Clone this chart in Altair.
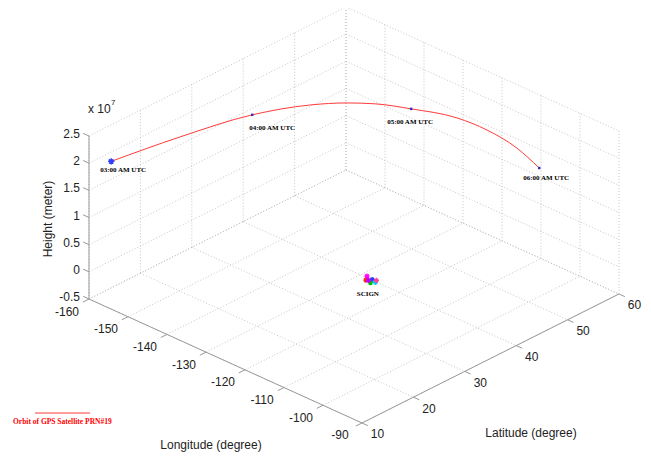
import altair as alt
import pandas as pd

# ---------------- data ----------------
lon_ticks = [-160, -150, -140, -130, -120, -110, -100, -90]
lat_ticks = [10, 20, 30, 40, 50, 60]
z_ticks = [-0.5, 0.0, 0.5, 1.0, 1.5, 2.0, 2.5]          # x 1e7 m
z_tick_labels = ["-0.5", "0", "0.5", "1", "1.5", "2", "2.5"]

# orbit of GPS satellite PRN#19 (longitude, latitude, height in m)
orbit_lon = [-157.2, -154.5, -150.7, -145.6, -141.1, -137.1, -130.9, -122.3, -115.0, -106.2, -97.8]
orbit_lat = [12.2, 23.5, 34.7, 42.0, 45.9, 48.3, 50.6, 53.0, 53.3, 52.4, 50.4]
orbit_h = [2.02e7, 2.02e7, 2.02e7, 2.02e7, 2.02e7, 2.02e7, 2.02e7, 2.02e7, 2.02e7, 2.02e7, 2.02e7]

hour_labels = ["03:00 AM UTC", "04:00 AM UTC", "05:00 AM UTC", "06:00 AM UTC"]
hour_lon = [-157.2, -150.7, -130.9, -97.8]
hour_lat = [12.2, 34.7, 50.6, 50.4]
hour_h = [2.02e7, 2.02e7, 2.02e7, 2.02e7]

# SCIGN stations
station_lon = [-121.4, -120.5, -119.8, -119.2, -118.6, -120.1, -119.0]
station_lat = [34.8, 33.9, 34.6, 33.8, 34.3, 34.1, 34.8]
station_h = [0.0, 0.0, 0.0, 0.0, 0.0, 0.0, 0.0]
station_colors = ["#ff00ff", "#ff2020", "#2040ff", "#00c000", "#00d0ff", "#c000ff", "#ff40a0"]

# ---------------- projection (view of the 3-D box) ----------------
LON0, LAT0, Z0 = -160.0, 10.0, -0.5
ORIGIN = (89.0 - 8, 299.0 - 8)      # screen position of the (lon0, lat0, z0) corner
VLON = (3.9, 1.771)                 # px per degree longitude
VLAT = (5.14, -2.58)                # px per degree latitude
VZ = (0.0, -54.33)                  # px per 1e7 m
W, H = 635, 444


def proj(lon, lat, z):  # z in units of 1e7 m
    a, b, c = lon - LON0, lat - LAT0, z - Z0
    return (ORIGIN[0] + a * VLON[0] + b * VLAT[0] + c * VZ[0],
            ORIGIN[1] + a * VLON[1] + b * VLAT[1] + c * VZ[1])


zmin, zmax = z_ticks[0], z_ticks[-1]
lonmin, lonmax = lon_ticks[0], lon_ticks[-1]
latmin, latmax = lat_ticks[0], lat_ticks[-1]


def seg(p, q):
    x, y = proj(*p)
    x2, y2 = proj(*q)
    return {"x": x, "y": y, "x2": x2, "y2": y2}


grid = []
for lo in lon_ticks:
    grid.append(seg((lo, latmin, zmin), (lo, latmax, zmin)))      # floor
    grid.append(seg((lo, latmax, zmin), (lo, latmax, zmax)))      # back wall
for la in lat_ticks:
    grid.append(seg((lonmin, la, zmin), (lonmax, la, zmin)))      # floor
    grid.append(seg((lonmin, la, zmin), (lonmin, la, zmax)))      # left wall
for z in z_ticks:
    grid.append(seg((lonmin, latmin, z), (lonmin, latmax, z)))    # left wall
    grid.append(seg((lonmin, latmax, z), (lonmax, latmax, z)))    # back wall
grid_df = pd.DataFrame(grid)

axes_df = pd.DataFrame([
    seg((lonmin, latmin, zmin), (lonmin, latmin, zmax)),
    seg((lonmin, latmin, zmin), (lonmax, latmin, zmin)),
    seg((lonmax, latmin, zmin), (lonmax, latmax, zmin)),
])

ticks = []
for z in z_ticks:
    ticks.append(seg((lonmin, latmin, z), (lonmin - 1.5, latmin, z)))
for lo in lon_ticks:
    ticks.append(seg((lo, latmin, zmin), (lo, latmin - 1.2, zmin)))
for la in lat_ticks:
    ticks.append(seg((lonmax, la, zmin), (lonmax + 1.5, la, zmin)))
ticks_df = pd.DataFrame(ticks)

zl = []
for z, t in zip(z_ticks, z_tick_labels):
    x, y = proj(lonmin, latmin, z)
    zl.append({"x": x - 9, "y": y - 2, "t": t})
zlab_df = pd.DataFrame(zl)

ll = []
for lo in lon_ticks:
    x, y = proj(lo, latmin, zmin)
    ll.append({"x": x - 22, "y": y + 12.5, "t": str(lo)})
for la in lat_ticks:
    x, y = proj(lonmax, la, zmin)
    ll.append({"x": x + 15.5, "y": y + 11.5, "t": str(la)})
cl_df = pd.DataFrame(ll)

orb = []
for i, (lo, la, h) in enumerate(zip(orbit_lon, orbit_lat, orbit_h)):
    x, y = proj(lo, la, h / 1e7)
    orb.append({"x": x, "y": y, "o": i})
orbit_df = pd.DataFrame(orb)

label_dx = [-11, -3, -24, -16]
label_dy = [8.5, 13, 13, 10]
hrs = []
for lab, lo, la, h, dx, dy in zip(hour_labels, hour_lon, hour_lat, hour_h, label_dx, label_dy):
    x, y = proj(lo, la, h / 1e7)
    hrs.append({"x": x, "y": y, "tx": x + dx, "ty": y + dy, "t": lab})
hrs_df = pd.DataFrame(hrs)

st = []
for lo, la, h, c in zip(station_lon, station_lat, station_h, station_colors):
    x, y = proj(lo, la, h / 1e7)
    st.append({"x": x, "y": y, "c": c})
st_df = pd.DataFrame(st)
scx, scy = proj(sum(station_lon) / len(station_lon), sum(station_lat) / len(station_lat), 0.0)

# ---------------- chart ----------------
xs = alt.Scale(domain=[0, W], nice=False, zero=False)
ys = alt.Scale(domain=[0, H], nice=False, zero=False, reverse=True)
X = lambda f="x": alt.X(f"{f}:Q", scale=xs, axis=None)
Y = lambda f="y": alt.Y(f"{f}:Q", scale=ys, axis=None)

ASTER = "M-1,0L1,0M0,-1L0,1M-0.7,-0.7L0.7,0.7M-0.7,0.7L0.7,-0.7"
SANS = "Liberation Sans"
SERIF = "Liberation Serif"
TXT = "#222222"

grid_l = alt.Chart(grid_df).mark_rule(color="#b8b8b8", strokeWidth=0.8, strokeDash=[1, 2]).encode(
    x=X(), y=Y(), x2="x2:Q", y2="y2:Q")
axes_l = alt.Chart(axes_df).mark_rule(color="#999999", strokeWidth=1).encode(
    x=X(), y=Y(), x2="x2:Q", y2="y2:Q")
ticks_l = alt.Chart(ticks_df).mark_rule(color="#999999", strokeWidth=1).encode(
    x=X(), y=Y(), x2="x2:Q", y2="y2:Q")
zlab_l = alt.Chart(zlab_df).mark_text(align="right", baseline="middle", font=SANS, fontSize=12,
                                      color=TXT).encode(x=X(), y=Y(), text="t:N")
cl_l = alt.Chart(cl_df).mark_text(align="center", baseline="middle", font=SANS, fontSize=12,
                                  color=TXT).encode(x=X(), y=Y(), text="t:N")

lon_title_l = alt.Chart(pd.DataFrame([{"x": 211 - 8, "y": H, "t": "Longitude (degree)"}])).mark_text(
    align="center", baseline="bottom", font=SANS, fontSize=12, color=TXT).encode(
    x=X(), y=Y(), text="t:N")
lat_title_l = alt.Chart(pd.DataFrame([{"x": 531 - 8, "y": 433 - 8, "t": "Latitude (degree)"}])).mark_text(
    align="center", baseline="middle", font=SANS, fontSize=12, color=TXT).encode(
    x=X(), y=Y(), text="t:N")
ytitle_l = alt.Chart(pd.DataFrame([{"x": 48 - 8, "y": 219 - 8, "t": "Height (meter)"}])).mark_text(
    align="center", baseline="middle", angle=270, font=SANS, fontSize=12, color=TXT).encode(
    x=X(), y=Y(), text="t:N")
exp_l = alt.Chart(pd.DataFrame([{"x": 88 - 8, "y": 109 - 8, "t": "x 10"}])).mark_text(
    align="left", baseline="middle", font=SANS, fontSize=12, color=TXT).encode(
    x=X(), y=Y(), text="t:N")
exp7_l = alt.Chart(pd.DataFrame([{"x": 111 - 8, "y": 103 - 8, "t": "7"}])).mark_text(
    align="left", baseline="middle", font=SANS, fontSize=8, color=TXT).encode(
    x=X(), y=Y(), text="t:N")

orbit_l = alt.Chart(orbit_df).mark_line(color="#ff3a3a", strokeWidth=1, interpolate="monotone").encode(
    x=X(), y=Y(), order="o:Q")
first_l = alt.Chart(hrs_df.iloc[:1]).mark_point(shape=ASTER, filled=False, size=40, color="#3040ff",
                                                strokeWidth=1.5, opacity=1).encode(x=X(), y=Y())
hour_pts_l = alt.Chart(hrs_df.iloc[1:]).mark_square(size=6, color="#3030c0", opacity=1).encode(
    x=X(), y=Y())
hour_txt_l = alt.Chart(hrs_df).mark_text(align="left", baseline="middle", font=SERIF, fontSize=7,
                                         fontWeight="bold", color="#000000").encode(
    x=X("tx"), y=Y("ty"), text="t:N")

st_l = alt.Chart(st_df).mark_point(shape=ASTER, filled=False, size=28, strokeWidth=1.3, opacity=1).encode(
    x=X(), y=Y(), color=alt.Color("c:N", scale=None))
st_txt_l = alt.Chart(pd.DataFrame([{"x": scx - 3, "y": scy + 13.5, "t": "SCIGN"}])).mark_text(
    align="center", baseline="middle", font=SERIF, fontSize=7, fontWeight="bold", color="#000000").encode(
    x=X(), y=Y(), text="t:N")

leg_line_l = alt.Chart(pd.DataFrame([{"x": 35 - 8, "x2": 90 - 8, "y": 413 - 8}])).mark_rule(
    color="#ff3a3a", strokeWidth=1).encode(x=X(), x2="x2:Q", y=Y())
leg_txt_l = alt.Chart(pd.DataFrame([{"x": 13 - 8, "y": 422 - 8, "t": "Orbit of GPS Satellite PRN#19"}])).mark_text(
    align="left", baseline="middle", font=SERIF, fontSize=7.5, fontWeight="bold", color="#ff0000").encode(
    x=X(), y=Y(), text="t:N")

chart = alt.layer(
    grid_l, axes_l, ticks_l, zlab_l, cl_l, lon_title_l, lat_title_l, ytitle_l, exp_l, exp7_l,
    orbit_l, first_l, hour_pts_l, hour_txt_l, st_l, st_txt_l, leg_line_l, leg_txt_l
).properties(
    width=W, height=H, autosize=alt.AutoSizeParams(type="none"), padding=0
).configure_view(stroke=None)

chart.save("out.html", embed_options={"renderer": "svg", "actions": False})
